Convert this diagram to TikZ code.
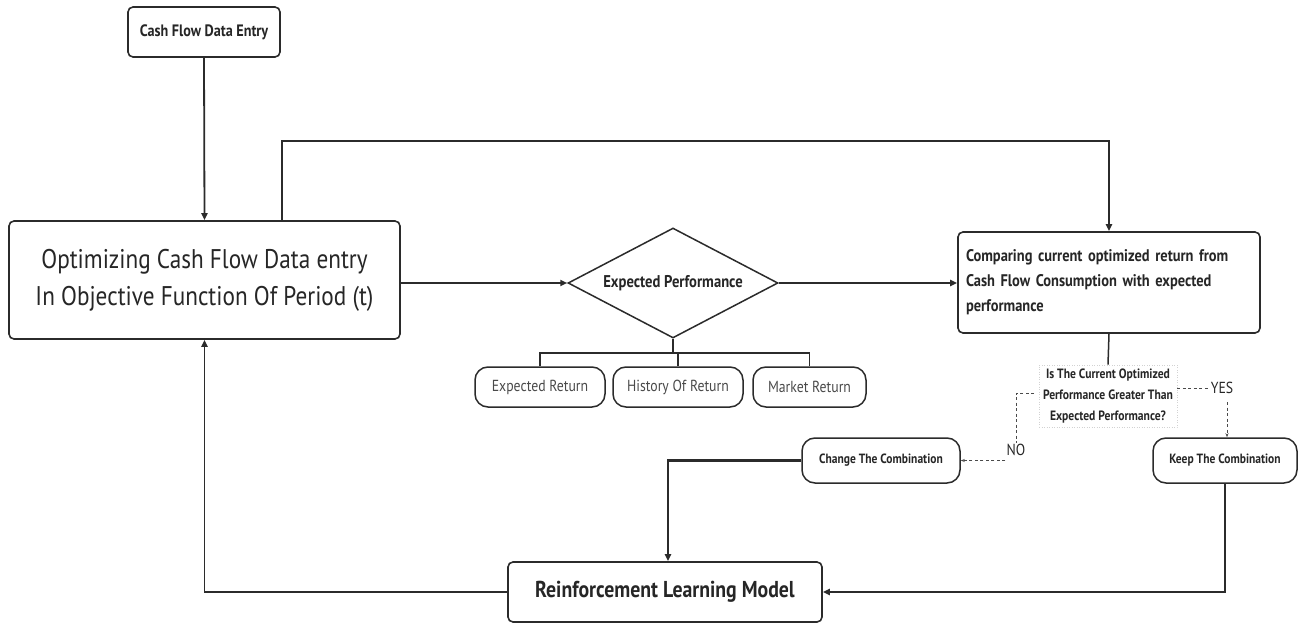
\documentclass[tikz,border=0pt]{standalone}
\usepackage{fontspec}
\setmainfont{PT Sans}[FakeStretch=0.86]
\usetikzlibrary{shapes.geometric,arrows.meta}
\definecolor{ln}{HTML}{2B2B2B}
\definecolor{tx}{HTML}{262626}
\definecolor{lt}{HTML}{4A4A4A}
\tikzset{
  box/.style={draw=ln,line width=1.6pt,rounded corners=5pt,fill=white,text=tx,align=center,inner sep=0pt},
  pill/.style={draw=ln,line width=1.5pt,rounded corners=13pt,fill=white,text=tx,align=center,inner sep=0pt},
  conn/.style={draw=ln,line width=1.8pt,-{Triangle[length=7pt,width=6pt]}},
  plain/.style={draw=ln,line width=1.5pt},
  dashln/.style={draw=lt,line width=0.8pt,dash pattern=on 3pt off 2.5pt},
}
\begin{document}
\begin{tikzpicture}[x=1pt,y=-1pt]
\useasboundingbox (0,0) rectangle (1299,626);
\node[box,minimum width=152pt,minimum height=50pt,font=\bfseries\fontsize{16.5}{18}\selectfont] (entry) at (204,32) {Cash Flow Data Entry};
\node[box,minimum width=391pt,minimum height=118pt,font=\fontsize{27}{37}\selectfont] (opt) at (204.5,280) {Optimizing Cash Flow Data entry\\In Objective Function Of Period (t)};
\node[diamond,draw=ln,line width=1.5pt,fill=white,minimum width=210pt,minimum height=110pt,inner sep=0pt] (perf) at (673,283) {};
\node[text=tx,inner sep=0pt,font=\bfseries\fontsize{17}{19}\selectfont] (perftxt) at (perf.center) {Expected Performance};
\node[box,minimum width=302pt,minimum height=101pt,align=left,text width=286pt,inner xsep=8pt,font=\bfseries\fontsize{16.8}{25}\selectfont] (cmp) at (1109,282.5) {Comparing current optimized return from\\Cash Flow Consumption with expected\\performance};
\node[pill,minimum width=130pt,minimum height=40pt,text=lt,font=\fontsize{16}{18}\selectfont] (er) at (540,387) {Expected Return};
\node[pill,minimum width=130pt,minimum height=40pt,text=lt,font=\fontsize{16}{18}\selectfont] (hr) at (678,387) {History Of Return};
\node[pill,minimum width=113pt,minimum height=40pt,text=lt,font=\fontsize{16}{18}\selectfont] (mr) at (809.5,387) {Market Return};
\node[draw=lt!25,dotted,line width=0.5pt,text=tx,align=center,inner sep=4pt,font=\bfseries\fontsize{13.5}{21}\selectfont] (q) at (1108,396) {Is The Current Optimized\\Performance Greater Than\\Expected Performance?};
\node[pill,minimum width=158pt,minimum height=45pt,font=\bfseries\fontsize{13.4}{15}\selectfont] (chg) at (881,460.5) {Change The Combination};
\node[pill,minimum width=144pt,minimum height=45pt,font=\bfseries\fontsize{13.4}{15}\selectfont] (keep) at (1225,460.5) {Keep The Combination};
\node[box,minimum width=314pt,minimum height=60pt,font=\bfseries\fontsize{23}{25}\selectfont] (rl) at (665,592) {Reinforcement Learning Model};
\node[text=tx,inner sep=1pt,font=\fontsize{16}{18}\selectfont] (no) at (1016,450) {NO};
\node[text=tx,inner sep=1pt,font=\fontsize{16}{18}\selectfont] (yes) at (1222,388) {YES};
\coordinate (topturn) at (282,141);
\coordinate (bendc) at (668,460.5);
\coordinate (yestop) at (1227,402);
\coordinate (qno) at (1034,393);
% connectors
\draw[conn] (entry.south) -- (opt.north);
\draw[conn] (opt.north -| topturn) -- (topturn) -| (cmp.north);
\draw[conn] (opt.east |- perf.west) -- (perf.west);
\draw[conn] (perf.east) -- (cmp.west |- perf.east);
\draw[plain] (perf.south) -- ++(0,14) coordinate (bar);
\draw[plain] (er.north) -- (er.north |- bar) -- (mr.north |- bar) -- (mr.north);
\draw[plain] (hr.north) -- (hr.north |- bar);
\draw[plain] (cmp.south) -- (q.north);
\draw[dashln] (qno) -- (qno -| no.north) -- (no.north);
\draw[dashln,-{Stealth[length=4pt,width=3pt]}] (chg.east -| no.west) -- (chg.east);
\draw[dashln] (yes.west -| q.east) -- (yes.west);
\draw[dashln,-{Stealth[length=4pt,width=3pt]}] (yestop) -- (keep.north -| yestop);
\draw[conn,line width=2.4pt] (chg.west) -- (bendc) -- (bendc |- rl.north);
\draw[conn] (keep.south) |- (rl.east);
\draw[conn] (rl.west) -| (opt.south);
\end{tikzpicture}
\end{document}
